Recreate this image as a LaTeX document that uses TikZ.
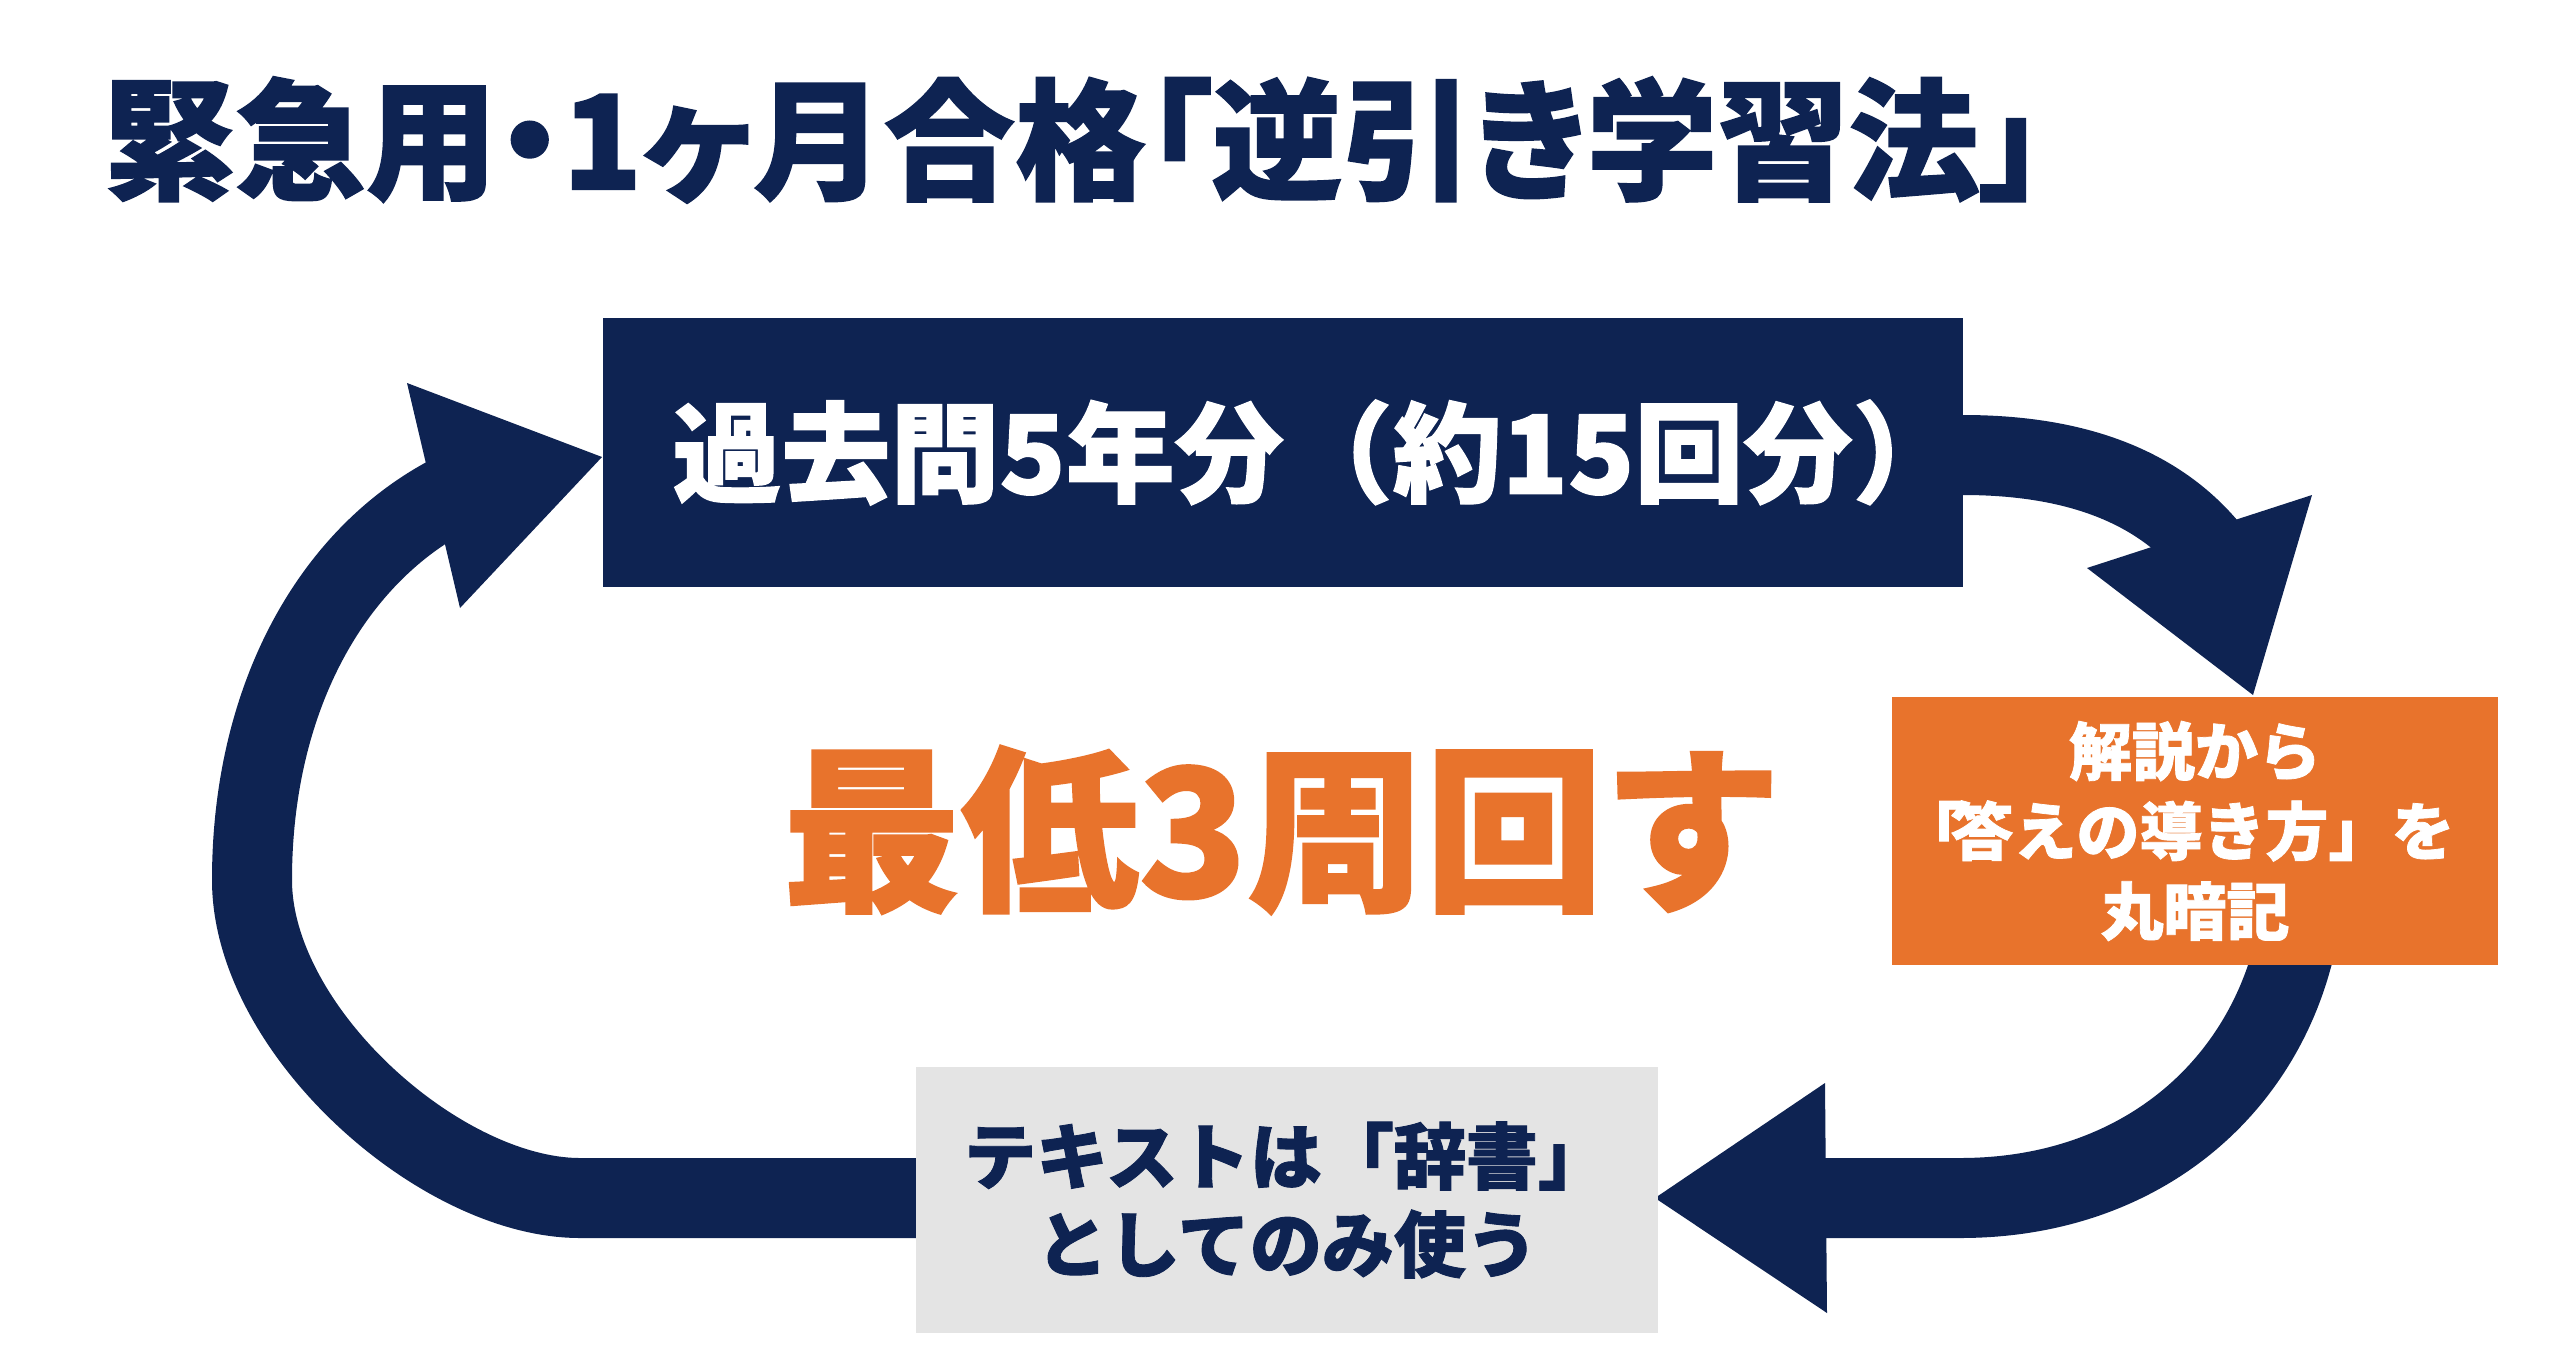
\documentclass[tikz,border=0pt]{standalone}
\usepackage{fontspec}
\newfontfamily\jp{Noto Sans CJK JP}[BoldFeatures={FakeBold=1.2}]
\newfontfamily\jpt{Noto Sans CJK JP}[BoldFeatures={FakeBold=1.2,RawFeature=+palt}]
\definecolor{navy}{HTML}{0E2352}
\definecolor{orng}{HTML}{E8732C}
\definecolor{lgray}{HTML}{E4E4E4}
\tikzset{
  band/.style={draw=navy, line width=80pt},
  headtip/.style={fill=navy, draw=none},
  boxnode/.style={inner sep=0pt, outer sep=0pt, align=center},
}
\begin{document}
\begin{tikzpicture}[x=1pt,y=-1pt]
\useasboundingbox (0,0) rectangle (2560,1350);
\fill[white] (0,0) rectangle (2560,1350);

% named points of the connectors
\coordinate (r0) at (1900,455);
\coordinate (r1) at (1963,455);
\coordinate (r2) at (2210,550);
\coordinate (b0) at (2300,930);
\coordinate (b1) at (2290,965);
\coordinate (b2) at (1960,1198);
\coordinate (b3) at (1800,1198);
\coordinate (l0) at (930,1198);
\coordinate (l1) at (580,1198);
\coordinate (l2) at (252,880);
\coordinate (l3) at (446,497);

% bands
\draw[band] (r0) -- (r1) .. controls (2090,455) and (2165,495) .. (r2);
\draw[band] (b0) -- (b1) .. controls (2250,1100) and (2130,1198) .. (b2) -- (b3);
\draw[band] (l0) -- (l1) .. controls (440,1198) and (252,1030) .. (l2)
   .. controls (252,700) and (330,560) .. (l3);

% arrow heads
\coordinate (ra) at (2087,568); \coordinate (rb) at (2312,495); \coordinate (rt) at (2253,695);
\coordinate (ba) at (1825,1083); \coordinate (bb) at (1827,1313); \coordinate (bt) at (1655,1198);
\coordinate (la) at (407,383); \coordinate (lb) at (460,608); \coordinate (lt) at (602,457);
\fill[headtip] (ra) -- (rb) -- (rt) -- cycle;
\fill[headtip] (ba) -- (bt) -- (bb) -- cycle;
\fill[headtip] (la) -- (lt) -- (lb) -- cycle;

% boxes
\node[boxnode, fill=navy, minimum width=1360pt, minimum height=269pt] (top) at (1283,452.5) {};
\node[boxnode, text=white, font=\jp\bfseries\fontsize{109}{120}\selectfont] (toptext) at (1317,452.5) {過去問5年分（約15回分）};
\node[boxnode, fill=orng, minimum width=606pt, minimum height=268pt, text=white,
  font=\jp\bfseries\fontsize{63}{80}\selectfont] (orange) at (2195,831) {解説から\\「\kern-12pt 答えの導き方」を\kern36pt\\丸暗記};
\node[boxnode, fill=lgray, minimum width=742pt, minimum height=266pt, text=navy,
  font=\jp\bfseries\fontsize{72}{88}\selectfont] (gray) at (1287,1200) {テキストは「辞書」\\としてのみ使う};

% texts
\node[boxnode, text=orng, font=\jp\bfseries\fontsize{178}{200}\selectfont] (center) at (1282,830) {最低3周回す};
\node[boxnode, anchor=west, text=navy, font=\jpt\bfseries\fontsize{131}{150}\selectfont] (title) at (104,140) {緊急用・1ヶ月合格「逆引き学習法」};
\end{tikzpicture}
\end{document}
